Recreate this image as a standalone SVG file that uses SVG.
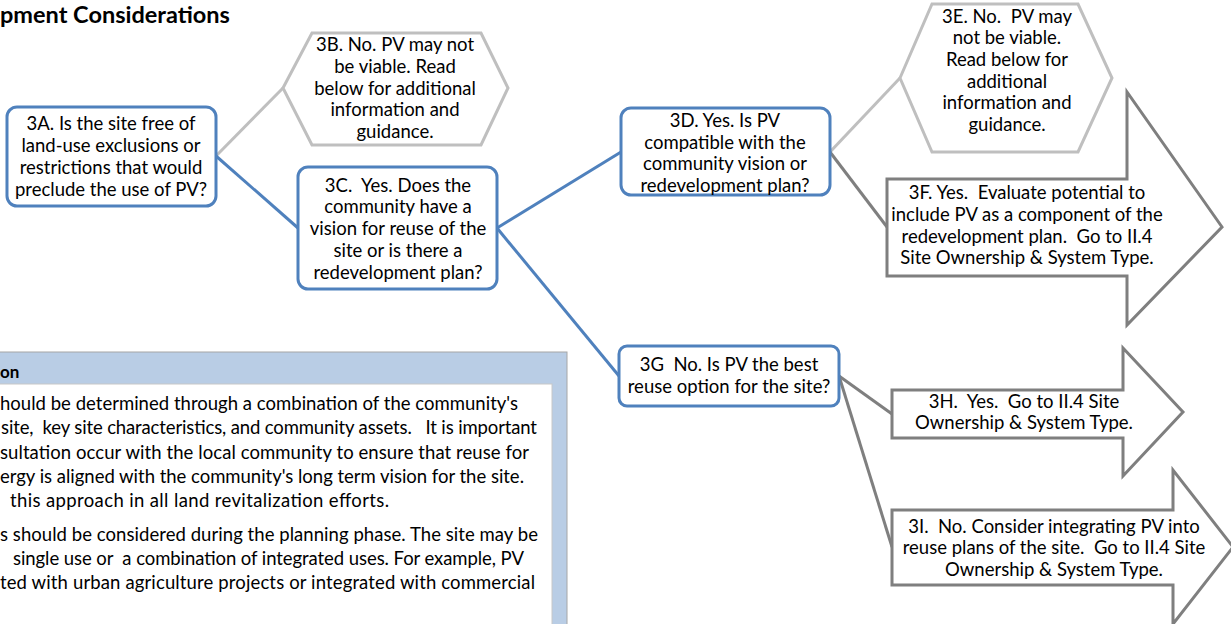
<svg xmlns="http://www.w3.org/2000/svg" width="1231" height="624" viewBox="0 0 1231 624">
  <style>
    text { font-family: Lato, "Liberation Sans", sans-serif; fill: #000; }
    .t { font-size: 18.5px; text-anchor: middle; white-space: pre; }
    .p { font-size: 18.5px; white-space: pre; }
    .title { font-size: 23.5px; font-weight: bold; }
    .hdr { font-size: 17px; font-weight: bold; }
    .ask { fill: #fff; stroke: #4f81bd; stroke-width: 3; }
    .stop { fill: #fff; stroke: #bfbfbf; stroke-width: 3; stroke-linejoin: miter; }
    .go { fill: #fff; stroke: #7f7f7f; stroke-width: 3; stroke-linejoin: miter; }
    .ln-blue { stroke: #4f81bd; stroke-width: 3; fill: none; }
    .ln-light { stroke: #bfbfbf; stroke-width: 3; fill: none; }
    .ln-dark { stroke: #7f7f7f; stroke-width: 3; fill: none; }
  </style>

  <!-- page heading, clipped at the left edge -->
  <text class="title" x="0" y="23">pment Considerations</text>

  <!-- side panel with explanatory text -->
  <g id="info-panel">
    <rect x="-5" y="352" width="572" height="290" fill="#b9cde5" stroke="#a6a6a6" stroke-width="1"/>
    <rect x="-5" y="384" width="557" height="260" fill="#fff" stroke="#c8c8c8" stroke-width="1"/>
    <text class="hdr" x="0" y="378">on</text>
    <text class="p" x="0" y="410" textLength="518" lengthAdjust="spacing">hould be determined through a combination of the community's</text>
    <text class="p" x="1" y="434" textLength="536" lengthAdjust="spacing">site,  key site characteristics, and community assets.   It is important</text>
    <text class="p" x="0" y="459" textLength="529" lengthAdjust="spacing">sultation occur with the local community to ensure that reuse for</text>
    <text class="p" x="0" y="483" textLength="524" lengthAdjust="spacing">ergy is aligned with the community's long term vision for the site.</text>
    <text class="p" x="10" y="507" textLength="379" lengthAdjust="spacing">this approach in all land revitalization efforts.</text>
    <text class="p" x="0" y="541" textLength="538" lengthAdjust="spacing">s should be considered during the planning phase. The site may be</text>
    <text class="p" x="13" y="565" textLength="511" lengthAdjust="spacing">single use or  a combination of integrated uses. For example, PV</text>
    <text class="p" x="0" y="589" textLength="535" lengthAdjust="spacing">ted with urban agriculture projects or integrated with commercial</text>
  </g>

  <!-- connectors -->
  <g id="connectors">
    <line class="ln-light" x1="216" y1="156" x2="283" y2="88"/>
    <line class="ln-blue" x1="216" y1="156" x2="298" y2="228"/>
    <line class="ln-blue" x1="497" y1="228" x2="621" y2="152"/>
    <line class="ln-blue" x1="497" y1="228" x2="619" y2="376"/>
    <line class="ln-light" x1="830" y1="152" x2="900" y2="78"/>
    <line class="ln-dark" x1="830" y1="152" x2="887" y2="227"/>
    <line class="ln-dark" x1="839" y1="376" x2="892" y2="414"/>
    <line class="ln-dark" x1="839" y1="376" x2="892" y2="547"/>
  </g>

  <g id="node-3A">
    <rect class="ask" x="7" y="107" width="209" height="99" rx="10"/>
    <text class="t" x="111" y="130">3A. Is the site free of</text>
    <text class="t" x="111" y="152">land-use exclusions or</text>
    <text class="t" x="111" y="174">restrictions that would</text>
    <text class="t" x="111" y="196">preclude the use of PV?</text>
  </g>

  <g id="node-3B">
    <polygon class="stop" points="283,88 312,33 481,33 508,88 481,145 312,145"/>
    <text class="t" x="395" y="51">3B. No. PV may not</text>
    <text class="t" x="395" y="73">be viable. Read</text>
    <text class="t" x="395" y="95">below for additional</text>
    <text class="t" x="395" y="116">information and</text>
    <text class="t" x="395" y="138">guidance.</text>
  </g>

  <g id="node-3C">
    <rect class="ask" x="298" y="167" width="199" height="122" rx="10"/>
    <text class="t" x="398" y="192">3C.  Yes. Does the</text>
    <text class="t" x="398" y="213">community have a</text>
    <text class="t" x="398" y="235">vision for reuse of the</text>
    <text class="t" x="398" y="257">site or is there a</text>
    <text class="t" x="398" y="279">redevelopment plan?</text>
  </g>

  <g id="node-3D">
    <rect class="ask" x="621" y="108" width="209" height="87" rx="10"/>
    <text class="t" x="725" y="127">3D. Yes. Is PV</text>
    <text class="t" x="725" y="149">compatible with the</text>
    <text class="t" x="725" y="170">community vision or</text>
    <text class="t" x="725" y="192">redevelopment plan?</text>
  </g>

  <g id="node-3E">
    <polygon class="stop" points="900,78 932,4 1078,4 1112,78 1078,152 932,152"/>
    <text class="t" x="1007" y="23">3E. No.  PV may</text>
    <text class="t" x="1007" y="44">not be viable.</text>
    <text class="t" x="1007" y="66">Read below for</text>
    <text class="t" x="1007" y="88">additional</text>
    <text class="t" x="1007" y="109">information and</text>
    <text class="t" x="1007" y="131">guidance.</text>
  </g>

  <g id="node-3F">
    <polygon class="go" points="887,179 1127,179 1127,92 1222,227 1127,325 1127,276 887,276"/>
    <text class="t" x="1027" y="199">3F. Yes.  Evaluate potential to</text>
    <text class="t" x="1027" y="221">include PV as a component of the</text>
    <text class="t" x="1027" y="243">redevelopment plan.  Go to II.4</text>
    <text class="t" x="1027" y="264">Site Ownership &amp; System Type.</text>
  </g>

  <g id="node-3G">
    <rect class="ask" x="619" y="346" width="220" height="60" rx="8"/>
    <text class="t" x="729" y="371">3G  No. Is PV the best</text>
    <text class="t" x="729" y="393">reuse option for the site?</text>
  </g>

  <g id="node-3H">
    <polygon class="go" points="892,390 1123,390 1123,348 1183,412 1123,476 1123,438 892,438"/>
    <text class="t" x="1024" y="408">3H.  Yes.  Go to II.4 Site</text>
    <text class="t" x="1024" y="429">Ownership &amp; System Type.</text>
  </g>

  <g id="node-3I">
    <polygon class="go" points="892,510 1173,510 1173,470 1233,547 1173,624 1173,585 892,585"/>
    <text class="t" x="1054" y="533">3I.  No. Consider integrating PV into</text>
    <text class="t" x="1054" y="554">reuse plans of the site.  Go to II.4 Site</text>
    <text class="t" x="1054" y="576">Ownership &amp; System Type.</text>
  </g>
</svg>
